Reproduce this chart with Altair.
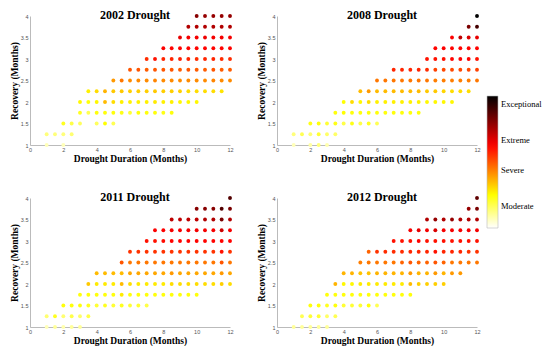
import altair as alt
import pandas as pd

# Each row: (recovery months, drought durations, severity colour values)
rows_2002 = [
    (4.00, [10, 10.5, 11, 11.5, 12], [0.80, 0.78, 0.78, 0.78, 0.78]),
    (3.75, [9.5, 10, 10.5, 11, 11.5, 12], [0.74, 0.74, 0.74, 0.74, 0.74, 0.74]),
    (3.50, [9, 9.5, 10, 10.5, 11, 11.5, 12], [0.66, 0.64, 0.64, 0.65, 0.64, 0.64, 0.64]),
    (3.25, [8, 8.5, 9, 9.5, 10, 10.5, 11, 11.5, 12], [0.63, 0.62, 0.62, 0.62, 0.62, 0.62, 0.62, 0.62, 0.62]),
    (3.00, [7, 7.5, 8, 8.5, 9, 9.5, 10, 10.5, 11, 11.5, 12],
     [0.56, 0.60, 0.57, 0.57, 0.58, 0.57, 0.56, 0.57, 0.57, 0.56, 0.56]),
    (2.75, [6, 6.5, 7, 7.5, 8, 8.5, 9, 9.5, 10, 10.5, 11, 11.5, 12],
     [0.50, 0.50, 0.49, 0.50, 0.50, 0.50, 0.49, 0.50, 0.49, 0.49, 0.50, 0.49, 0.49]),
    (2.50, [5, 5.5, 6, 6.5, 7, 7.5, 8, 8.5, 9, 9.5, 10, 10.5, 11, 11.5, 12],
     [0.40, 0.45, 0.42, 0.42, 0.42, 0.43, 0.42, 0.42, 0.42, 0.42, 0.42, 0.42, 0.43, 0.42, 0.42]),
    (2.25, [3.5, 4, 4.5, 5, 5.5, 6, 6.5, 7, 7.5, 8, 8.5, 9, 9.5, 10, 10.5, 11, 11.5],
     [0.27, 0.30, 0.36, 0.33, 0.33, 0.32, 0.32, 0.32, 0.33, 0.32, 0.32, 0.32, 0.30, 0.30, 0.30, 0.30, 0.29]),
    (2.00, [3, 3.5, 4, 4.5, 5, 5.5, 6, 6.5, 7, 7.5, 8, 8.5, 9, 9.5, 10],
     [0.26, 0.24, 0.26, 0.35, 0.30, 0.27, 0.27, 0.27, 0.27, 0.28, 0.27, 0.27, 0.26, 0.26, 0.26]),
    (1.75, [3, 3.5, 4, 4.5, 5, 5.5, 6, 6.5, 7, 7.5, 8, 8.5],
     [0.22, 0.17, 0.24, 0.24, 0.24, 0.23, 0.20, 0.24, 0.24, 0.24, 0.23, 0.24]),
    (1.50, [2, 2.5, 3, 4, 4.5, 5], [0.22, 0.18, 0.16, 0.16, 0.25, 0.17]),
    (1.25, [1, 1.5, 2, 2.5], [0.13, 0.13, 0.13, 0.14]),
    (1.00, [1, 2], [0.07, 0.07]),
]

rows_2008 = [
    (4.00, [12], [1.00]),
    (3.75, [11.5, 12], [0.82, 0.90]),
    (3.50, [10.5, 11, 11.5, 12], [0.63, 0.72, 0.68, 0.66]),
    (3.25, [9.5, 10, 10.5, 11, 11.5, 12], [0.62, 0.63, 0.62, 0.62, 0.62, 0.62]),
    (3.00, [9, 9.5, 10, 10.5, 11, 11.5, 12], [0.60, 0.60, 0.60, 0.62, 0.62, 0.62, 0.60]),
    (2.75, [7, 7.5, 8, 8.5, 9, 9.5, 10, 10.5, 11, 11.5, 12],
     [0.57, 0.57, 0.57, 0.57, 0.56, 0.53, 0.52, 0.52, 0.52, 0.52, 0.53]),
    (2.50, [6, 6.5, 7, 7.5, 8, 8.5, 9, 9.5, 10, 10.5, 11, 11.5, 12],
     [0.45, 0.45, 0.45, 0.45, 0.45, 0.45, 0.45, 0.44, 0.44, 0.44, 0.44, 0.44, 0.45]),
    (2.25, [5, 5.5, 6, 6.5, 7, 7.5, 8, 8.5, 9, 9.5, 10, 10.5, 11, 11.5],
     [0.35, 0.40, 0.35, 0.35, 0.35, 0.35, 0.35, 0.35, 0.33, 0.33, 0.31, 0.30, 0.30, 0.30]),
    (2.00, [4, 4.5, 5, 5.5, 6, 6.5, 7, 7.5, 8, 8.5, 9, 9.5, 10, 10.5],
     [0.25, 0.30, 0.26, 0.30, 0.27, 0.27, 0.27, 0.27, 0.27, 0.27, 0.26, 0.26, 0.26, 0.26]),
    (1.75, [3.5, 4, 4.5, 5, 5.5, 6, 6.5, 7, 7.5, 8, 8.5],
     [0.24, 0.25, 0.24, 0.24, 0.24, 0.24, 0.24, 0.24, 0.24, 0.24, 0.24]),
    (1.50, [2, 2.5, 3, 3.5, 4, 4.5, 5, 5.5, 6], [0.23, 0.24, 0.20, 0.23, 0.18, 0.23, 0.18, 0.22, 0.17]),
    (1.25, [1, 1.5, 2, 2.5, 3, 3.5], [0.13, 0.17, 0.14, 0.20, 0.15, 0.15]),
    (1.00, [1, 2, 2.5, 3], [0.07, 0.09, 0.13, 0.08]),
]

rows_2011 = [
    (4.00, [12], [0.88]),
    (3.75, [10, 10.5, 11, 11.5, 12], [0.80, 0.80, 0.80, 0.88, 0.82]),
    (3.50, [8.5, 9, 9.5, 10, 10.5, 11, 11.5, 12], [0.72, 0.72, 0.72, 0.72, 0.74, 0.74, 0.82, 0.74]),
    (3.25, [7.5, 8, 8.5, 9, 9.5, 10, 10.5, 11, 11.5, 12],
     [0.63, 0.63, 0.64, 0.64, 0.64, 0.64, 0.64, 0.64, 0.70, 0.64]),
    (3.00, [7, 7.5, 8, 8.5, 9, 9.5, 10, 10.5, 11, 11.5, 12],
     [0.60, 0.60, 0.61, 0.62, 0.62, 0.62, 0.62, 0.62, 0.62, 0.62, 0.62]),
    (2.75, [6, 6.5, 7, 7.5, 8, 8.5, 9, 9.5, 10, 10.5, 11, 11.5, 12],
     [0.55, 0.55, 0.55, 0.55, 0.55, 0.55, 0.55, 0.55, 0.55, 0.55, 0.55, 0.60, 0.55]),
    (2.50, [5.5, 6, 6.5, 7, 7.5, 8, 8.5, 9, 9.5, 10, 10.5, 11, 11.5, 12],
     [0.50, 0.45, 0.45, 0.45, 0.45, 0.45, 0.45, 0.45, 0.45, 0.45, 0.45, 0.45, 0.50, 0.45]),
    (2.25, [4, 4.5, 5, 5.5, 6, 6.5, 7, 7.5, 8, 8.5, 9, 9.5, 10, 10.5, 11, 11.5, 12],
     [0.35, 0.35, 0.35, 0.35, 0.38, 0.38, 0.38, 0.38, 0.38, 0.40, 0.38, 0.38, 0.38, 0.38, 0.38, 0.40, 0.38]),
    (2.00, [3.5, 4, 4.5, 5, 5.5, 6, 6.5, 7, 7.5, 8, 8.5, 9, 9.5, 10, 10.5, 11, 11.5, 12],
     [0.33, 0.28, 0.28, 0.28, 0.35, 0.30, 0.28, 0.28, 0.28, 0.28, 0.30, 0.30, 0.30, 0.30, 0.30, 0.30, 0.32, 0.30]),
    (1.75, [3, 3.5, 4, 4.5, 5, 5.5, 6, 6.5, 7, 7.5, 8, 8.5, 9, 9.5, 10],
     [0.24, 0.24, 0.24, 0.24, 0.24, 0.28, 0.24, 0.24, 0.24, 0.24, 0.24, 0.24, 0.24, 0.24, 0.24]),
    (1.50, [2, 2.5, 3, 3.5, 4, 4.5, 5, 5.5, 6, 6.5, 7],
     [0.24, 0.24, 0.24, 0.22, 0.20, 0.22, 0.20, 0.22, 0.20, 0.20, 0.18]),
    (1.25, [1, 1.5, 2, 2.5, 3, 3.5], [0.14, 0.22, 0.14, 0.18, 0.15, 0.18]),
    (1.00, [1, 1.5, 2, 2.5, 3], [0.07, 0.10, 0.08, 0.10, 0.10]),
]

rows_2012 = [
    (4.00, [12], [0.86]),
    (3.75, [11.5, 12], [0.78, 0.82]),
    (3.50, [9, 9.5, 10, 10.5, 11, 11.5, 12], [0.74, 0.78, 0.74, 0.78, 0.74, 0.74, 0.74]),
    (3.25, [8, 8.5, 9, 9.5, 10, 10.5, 11, 11.5, 12], [0.64, 0.66, 0.64, 0.68, 0.64, 0.64, 0.64, 0.64, 0.64]),
    (3.00, [7, 7.5, 8, 8.5, 9, 9.5, 10, 10.5, 11, 11.5, 12],
     [0.60, 0.60, 0.60, 0.62, 0.60, 0.60, 0.60, 0.60, 0.60, 0.60, 0.60]),
    (2.75, [5.5, 6, 6.5, 7, 7.5, 8, 8.5, 9, 9.5, 10, 10.5, 11, 11.5, 12],
     [0.48, 0.55, 0.56, 0.56, 0.56, 0.57, 0.57, 0.57, 0.60, 0.57, 0.57, 0.57, 0.55, 0.55]),
    (2.50, [5, 5.5, 6, 6.5, 7, 7.5, 8, 8.5, 9, 9.5, 10, 10.5, 11, 11.5, 12],
     [0.44, 0.45, 0.45, 0.45, 0.45, 0.48, 0.50, 0.48, 0.48, 0.50, 0.48, 0.45, 0.45, 0.45, 0.45]),
    (2.25, [4, 4.5, 5, 5.5, 6, 6.5, 7, 7.5, 8, 8.5, 9, 9.5, 10, 10.5, 11],
     [0.36, 0.36, 0.34, 0.34, 0.36, 0.36, 0.36, 0.36, 0.40, 0.36, 0.36, 0.40, 0.36, 0.40, 0.40]),
    (2.00, [3.5, 4, 4.5, 5, 5.5, 6, 6.5, 7, 7.5, 8, 8.5, 9, 9.5, 10],
     [0.36, 0.26, 0.26, 0.28, 0.28, 0.28, 0.28, 0.28, 0.28, 0.35, 0.32, 0.32, 0.32, 0.32]),
    (1.75, [3, 3.5, 4, 4.5, 5, 5.5, 6, 6.5, 7, 7.5, 8],
     [0.24, 0.24, 0.24, 0.24, 0.24, 0.24, 0.24, 0.24, 0.24, 0.24, 0.24]),
    (1.50, [2, 2.5, 3, 3.5, 4, 4.5, 5, 5.5, 6], [0.24, 0.24, 0.22, 0.24, 0.20, 0.20, 0.20, 0.24, 0.17]),
    (1.25, [1.5, 2, 2.5, 3, 3.5], [0.17, 0.20, 0.20, 0.15, 0.17]),
    (1.00, [1, 1.5, 2, 2.5, 3], [0.10, 0.10, 0.10, 0.10, 0.10]),
]

panels = [("2002 Drought", rows_2002), ("2008 Drought", rows_2008),
          ("2011 Drought", rows_2011), ("2012 Drought", rows_2012)]

x_ticks = [0, 2, 4, 6, 8, 10, 12]
y_ticks = [1, 1.5, 2, 2.5, 3, 3.5, 4]
legend_values = [0.17, 0.44, 0.67, 0.94]
legend_names = ["Moderate", "Severe", "Extreme", "Exceptional"]
color_stops = [0, 0.25, 0.625, 1]
color_range = ["#ffffff", "#ffff00", "#ff0000", "#000000"]
title_anchor = (6.3, 4.0)  # data position of each panel title's centre / baseline

records = []
for name, rows in panels:
    for rec, durs, sevs in rows:
        for d, s in zip(durs, sevs):
            records.append({"drought": name, "dur": d, "rec": rec, "sev": s})
df = pd.DataFrame(records)
titles_df = pd.DataFrame({"drought": [p[0] for p in panels]})

label_expr = " : ".join(
    [f"datum.value < {v + 0.05} ? '{n}'" for v, n in zip(legend_values[:-1], legend_names[:-1])]
) + f" : '{legend_names[-1]}'"

color_scale = alt.Scale(domain=color_stops, range=color_range, interpolate="rgb")
x_scale = alt.Scale(domain=[0, 12], nice=False)
y_scale = alt.Scale(domain=[1, 4], nice=False, zero=False)
x_axis = alt.Axis(values=x_ticks, title="Drought Duration (Months)", format="~g")
y_axis = alt.Axis(values=y_ticks, title="Recovery (Months)", format="~g")


def panel(name):
    pts = alt.Chart(df).transform_filter(
        alt.datum.drought == name
    ).mark_circle(size=15, opacity=1).encode(
        x=alt.X("dur:Q", scale=x_scale, axis=x_axis),
        y=alt.Y("rec:Q", scale=y_scale, axis=y_axis),
        color=alt.Color("sev:Q", scale=color_scale,
                        legend=alt.Legend(orient="none", legendX=457, legendY=80, title=None,
                                          direction="vertical", gradientLength=132,
                                          gradientThickness=11, values=legend_values,
                                          labelExpr=label_expr, labelOverlap=False,
                                          labelFont="Liberation Serif", labelFontSize=8.5,
                                          labelColor="black", labelOffset=3,
                                          gradientStrokeColor="#bbbbbb", gradientStrokeWidth=0.6)),
    )
    ttl = alt.Chart(titles_df).transform_filter(
        alt.datum.drought == name
    ).mark_text(font="Liberation Serif", fontWeight="bold", fontSize=12, color="black",
                align="center", baseline="alphabetic", dy=3).encode(
        x=alt.X(datum=title_anchor[0], scale=x_scale, axis=x_axis),
        y=alt.Y(datum=title_anchor[1], scale=y_scale, axis=y_axis),
        text="drought:N",
    )
    return alt.layer(pts, ttl).properties(width=200, height=129)


top = alt.hconcat(panel(panels[0][0]), panel(panels[1][0]), spacing=21)
bottom = alt.hconcat(panel(panels[2][0]), panel(panels[3][0]), spacing=21)
chart = alt.vconcat(top, bottom, spacing=26).properties(
    padding=0
).configure_view(stroke="transparent").configure_axis(
    grid=False,
    labelFont="Liberation Sans", labelFontSize=5.5, labelColor="#555555",
    labelPadding=2, labelFlush=False, labelOverlap=False, ticks=False,
    domainColor="#aaaaaa", domainWidth=0.8,
    titleFont="Liberation Serif", titleFontWeight="bold", titleFontSize=9.5,
    titleColor="black", titlePadding=1,
)

chart.save("out.html", embed_options={"renderer": "svg", "actions": False})
